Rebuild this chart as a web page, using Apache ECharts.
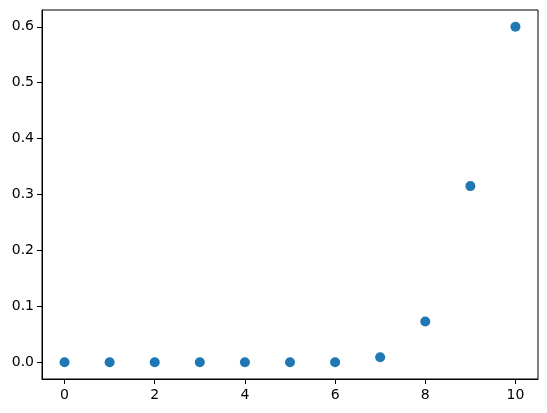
<!DOCTYPE html>
<html>
<head>
<meta charset="utf-8">
<script src="https://cdn.jsdelivr.net/npm/echarts@6/dist/echarts.min.js"></script>
<style>html,body{margin:0;padding:0;background:#fff}#c{width:547px;height:413px}</style>
</head>
<body>
<div id="c"></div>
<script>
const xValues = [0, 1, 2, 3, 4, 5, 6, 7, 8, 9, 10];
const yValues = [0.0, 0.0, 0.0, 0.0, 0.0, 0.0, 0.0, 0.009, 0.073, 0.315, 0.6];
const xTicks = [0, 2, 4, 6, 8, 10];
const yTicks = [0.0, 0.1, 0.2, 0.3, 0.4, 0.5, 0.6];

const chart = echarts.init(document.getElementById('c'), null, {renderer: 'canvas'});
const font = {fontFamily: 'DejaVu Sans', fontSize: 14, color: '#000'};
chart.setOption({
  animation: false,
  backgroundColor: '#fff',
  grid: {left: 42, right: 9, top: 10, bottom: 34, show: true, borderColor: '#000', borderWidth: 1, backgroundColor: 'transparent'},
  xAxis: {
    type: 'value', min: -0.5, max: 10.5,
    axisLine: {show: true, onZero: false, lineStyle: {color: '#000', width: 1}},
    axisTick: {show: true, length: 5, lineStyle: {color: '#000'}, customValues: xTicks},
    axisLabel: Object.assign({margin: 9, customValues: xTicks, formatter: v => String(v)}, font),
    splitLine: {show: false}
  },
  yAxis: {
    type: 'value', min: -0.03, max: 0.63,
    axisLine: {show: true, onZero: false, lineStyle: {color: '#000', width: 1}},
    axisTick: {show: true, length: 5, lineStyle: {color: '#000'}, customValues: yTicks},
    axisLabel: Object.assign({margin: 8, customValues: yTicks, formatter: v => v.toFixed(1)}, font),
    splitLine: {show: false}
  },
  series: [{
    type: 'scatter',
    symbol: 'circle',
    symbolSize: 10,
    itemStyle: {color: '#1f77b4', opacity: 1},
    data: xValues.map((x, i) => [x, yValues[i]])
  }]
});
</script>
</body>
</html>
